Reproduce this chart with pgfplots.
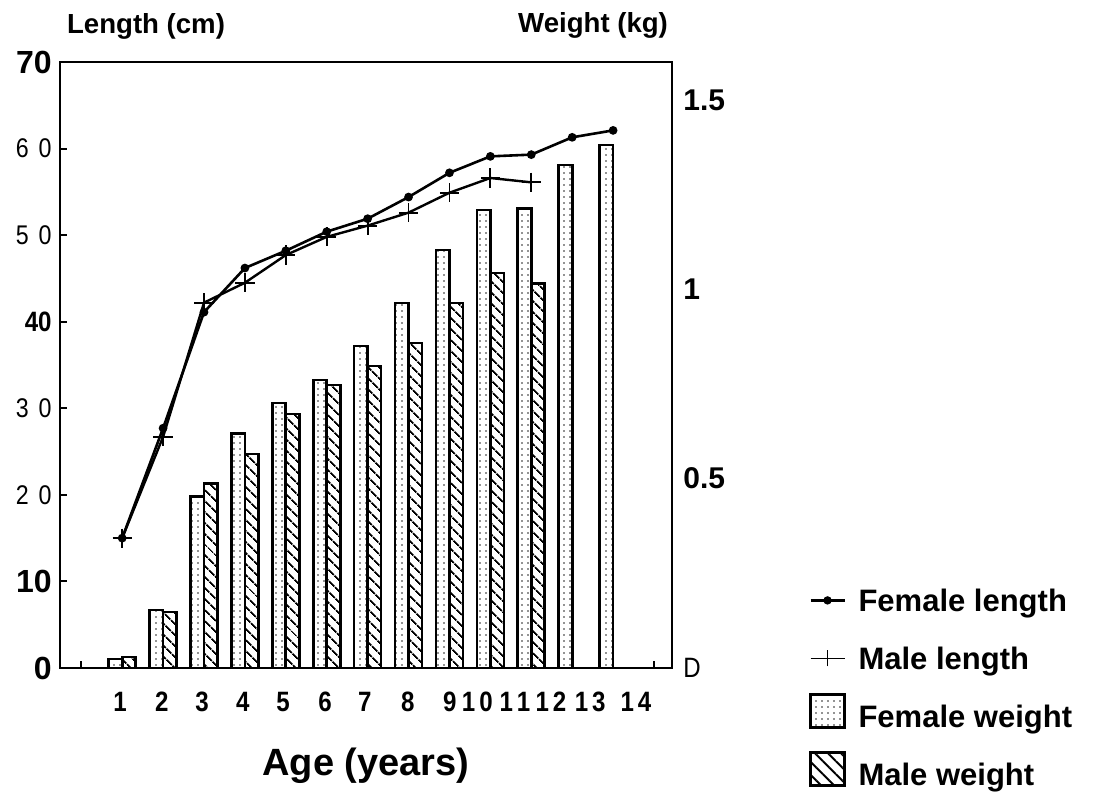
\documentclass[border=0pt]{standalone}
\usepackage{pgfplots}
\pgfplotsset{compat=1.18}
\usetikzlibrary{patterns.meta}
\usepackage{fontspec}
\setmainfont{Liberation Sans}
\newfontfamily\cond[FakeStretch=0.86]{Liberation Sans}

% fill styles for the weight bars
\tikzset{
  femfill/.style={pattern={Dots[distance=3pt,radius=0.45pt]},pattern color=black!85},
  malfill/.style={pattern={Lines[angle=-45,distance=4pt,line width=1pt]},pattern color=black},
}
\newcommand{\lt}{\cond\fontsize{13.5}{13.5}\selectfont}
\newcommand{\hv}{\fontsize{16}{16}\selectfont\bfseries}
\newcommand{\xl}{\cond\fontsize{14}{14}\selectfont\bfseries}
\newcommand{\rw}{\fontsize{15}{15}\selectfont\bfseries}
% invisible box that fixes the size of a legend symbol
\newcommand{\legbox}{\pgfpathrectangle{\pgfpoint{0pt}{-3pt}}{\pgfpoint{24pt}{6pt}}\pgfusepath{discard}}

\begin{document}
\begin{tikzpicture}
\path[use as bounding box] (0,0) rectangle (546.5pt,398.5pt);

% weight bars on the right-hand scale
\begin{axis}[
  at={(30pt,64.5pt)}, anchor=south west,
  scale only axis, width=306pt, height=303pt,
  xmin=-0.52, xmax=14.44, ymin=0, ymax=1.6,
  axis x line=none, axis y line*=right, axis line style={draw=none},
  ytick={0,0.5,1,1.5},
  yticklabels={{\cond\fontsize{14}{14}\selectfont D},{\rw 0.5},{\rw 1},{\rw 1.5}},
  major tick length=0pt,
  yticklabel style={anchor=west, inner sep=0pt, xshift=5.5pt},
  ylabel={Weight (kg)},
  ylabel style={rotate=-90, at={(axis description cs:1,1)}, anchor=base east,
                yshift=14.5pt, xshift=1.5pt, font=\fontsize{13.8}{14}\selectfont\bfseries},
]
\addplot[ybar, bar width=0.33, bar shift=-0.165, draw=black, line width=1.35pt, femfill]
  coordinates {(1,0.024) (2,0.153) (3,0.452) (4,0.620) (5,0.700) (6,0.760) (7,0.850)
               (8,0.964) (9,1.104) (10,1.209) (11,1.214) (12,1.328) (13,1.381)};
\addplot[ybar, bar width=0.33, bar shift=0.165, draw=black, line width=1.35pt, malfill]
  coordinates {(1,0.029) (2,0.148) (3,0.488) (4,0.565) (5,0.671) (6,0.747) (7,0.797)
               (8,0.858) (9,0.964) (10,1.043) (11,1.016)};
\end{axis}

% length curves on the left-hand scale
\begin{axis}[
  at={(30pt,64.5pt)}, anchor=south west,
  scale only axis, width=306pt, height=303pt,
  xmin=-0.52, xmax=14.44, ymin=0, ymax=70,
  axis line style={line width=1.25pt},
  xtick={0,14}, xticklabels={,}, xtick pos=bottom, xtick align=inside,
  ytick={0,10,...,70}, ytick pos=left, ytick align=inside,
  major tick length=3.5pt, tick style={black, line width=1pt},
  yticklabels={{\hv 0},{\hv 10},{\lt 2\hspace{5pt}0},{\lt 3\hspace{5pt}0},{\xl 40},{\lt 5\hspace{5pt}0},{\lt 6\hspace{5pt}0},{\hv 70}},
  yticklabel style={anchor=east, inner sep=0pt, xshift=-4pt},
  extra x ticks={0.95,1.97,2.95,3.95,4.93,5.96,6.93,7.98,9.01,9.68,10.60,11.48,12.44,13.56},
  extra x tick labels={{\cond 1},2,3,4,5,6,7,8,9,1\kern2pt0,1\kern2pt1,1\kern2pt2,1\kern2pt3,1\kern2pt4},
  extra x tick style={tick style={draw=none}},
  xticklabel style={anchor=base, inner sep=0pt, yshift=-22pt, font=\xl},
  xlabel={Age (years)},
  xlabel style={at={(axis description cs:0.5,0)}, anchor=base, yshift=-54pt,
                font=\fontsize{19}{20}\selectfont\bfseries},
  ylabel={Length (cm)},
  ylabel style={rotate=-90, at={(axis description cs:0,1)}, anchor=base west,
                yshift=14.5pt, font=\fontsize{13.8}{14}\selectfont\bfseries},
  legend style={at={(axis description cs:1.2239,0.132)}, anchor=north west,
                draw=none, fill=none, inner sep=0pt, row sep=14pt,
                font=\fontsize{15.5}{18}\selectfont\bfseries,
                nodes={inner sep=0pt, text height=11.5pt, text depth=3.5pt}},
  legend cell align=left,
]
\addplot[black, line width=1.3pt, mark=*, mark size=1.5pt,
  legend image code/.code={
    \legbox
    \draw[black, line width=1.1pt] (0pt,1.5pt) -- (17pt,1.5pt);
    \fill[black] (8.5pt,1.5pt) circle (1.4pt);}]
  coordinates {(1,15.0) (2,27.7) (3,41.1) (4,46.2) (5,48.2) (6,50.4) (7,51.9)
               (8,54.4) (9,57.2) (10,59.1) (11,59.3) (12,61.3) (13,62.1)};
\addlegendentry{Female length}
\addplot[black, line width=1.2pt, mark=+, mark size=4.8pt, mark options={line width=0.9pt},
  legend image code/.code={
    \legbox
    \draw[black, line width=0.9pt] (0pt,1.5pt) -- (17pt,1.5pt);
    \draw[black, line width=0.8pt] (8.5pt,-2.5pt) -- (8.5pt,5.5pt);}]
  coordinates {(1,15.0) (2,26.7) (3,42.2) (4,44.5) (5,47.7) (6,49.8) (7,51.1)
               (8,52.6) (9,54.9) (10,56.6) (11,56.1)};
\addlegendentry{Male length}
\addlegendimage{legend image code/.code={
    \legbox
    \draw[overlay, black, line width=1.1pt, femfill] (0pt,-4pt) rectangle (17pt,12.5pt);}}
\addlegendentry{Female weight}
\addlegendimage{legend image code/.code={
    \legbox
    \draw[overlay, black, line width=1.1pt, pattern={Lines[angle=-45,distance=4.6pt,line width=1pt]}] (0pt,-4pt) rectangle (17pt,12.5pt);}}
\addlegendentry{Male weight}
\end{axis}
\end{tikzpicture}
\end{document}
